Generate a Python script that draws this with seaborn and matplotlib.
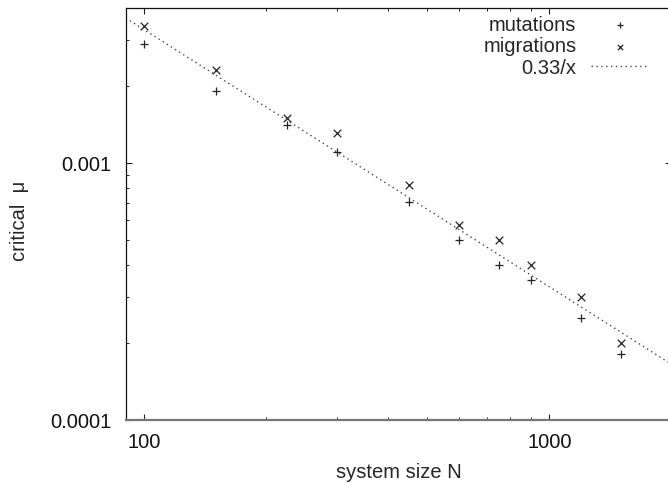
import numpy as np
import pandas as pd
import matplotlib
matplotlib.use("Agg")
import matplotlib.pyplot as plt
import seaborn as sns

# ---- data ----
system_size = [100, 150, 225, 300, 450, 600, 750, 900, 1200, 1500]
mutations = [2.9e-3, 1.9e-3, 1.41e-3, 1.10e-3, 7.05e-4, 5.0e-4, 4.0e-4, 3.5e-4, 2.5e-4, 1.8e-4]
migrations = [3.4e-3, 2.3e-3, 1.5e-3, 1.31e-3, 8.2e-4, 5.75e-4, 5.0e-4, 4.0e-4, 3.0e-4, 2.0e-4]
fit_coef = 0.33
x_ticks = [100, 1000]
x_tick_labels = ["100", "1000"]
y_ticks = [1e-4, 1e-3]
y_tick_labels = ["0.0001", "0.001"]
xlim = (90, 2000)
ylim = (1e-4, 4e-3)

sns.set_theme(style="ticks")
plt.rcParams["font.family"] = ["Liberation Sans", "DejaVu Sans"]
plt.rcParams["font.size"] = 14

df = pd.DataFrame({"N": system_size, "mutations": mutations, "migrations": migrations})
fit_x = np.geomspace(xlim[0], xlim[1], 60)
fit_df = pd.DataFrame({"N": fit_x, "mu": fit_coef / fit_x})

fig = plt.figure(figsize=(6.68, 4.84), dpi=100)
ax = fig.add_axes([0.1882, 0.1322, 0.8166, 0.8507])

sns.scatterplot(data=df, x="N", y="mutations", marker="+", s=34, color="#222222",
                linewidth=0.9, ax=ax, label="mutations")
sns.scatterplot(data=df, x="N", y="migrations", marker="x", s=30, color="#222222",
                linewidth=0.9, ax=ax, label="migrations")
sns.lineplot(data=fit_df, x="N", y="mu", color="#444444", linewidth=1.0,
             linestyle=(0, (1, 2.5)), ax=ax, label="0.33/x")

ax.set_xscale("log")
ax.set_yscale("log")
ax.set_xlim(*xlim)
ax.set_ylim(*ylim)
ax.set_xticks(x_ticks, x_tick_labels)
ax.set_yticks(y_ticks, y_tick_labels)

ax.tick_params(which="both", direction="in", top=True, right=True, colors="#222222",
               labelcolor="#111111")
ax.tick_params(which="major", length=4.5, width=0.8, labelsize=14.5)
ax.tick_params(axis="x", which="major", pad=9)
ax.tick_params(axis="y", which="major", pad=10)
ax.tick_params(which="minor", length=2.2, width=0.7)

for side in ["left", "top", "right"]:
    ax.spines[side].set_color("#111111")
    ax.spines[side].set_linewidth(0.9)
ax.spines["bottom"].set_color("#777777")
ax.spines["bottom"].set_linewidth(1.6)

ax.set_xlabel("system size N", fontsize=14.5, labelpad=8)
ax.set_ylabel("critical  μ", fontsize=14.5)
ax.yaxis.set_label_coords(-0.178, 0.483)

leg = ax.legend(loc="upper right", bbox_to_anchor=(0.958, 0.982), frameon=False,
                markerfirst=False, handlelength=2.85, handletextpad=0.72,
                labelspacing=0.12, borderpad=0, borderaxespad=0, fontsize=14.5,
                markerscale=0.7)
# right-align the legend entries like gnuplot's key
for col in leg._legend_handle_box.get_children():
    col.align = "right"

fig.savefig("out.png", dpi=100)
